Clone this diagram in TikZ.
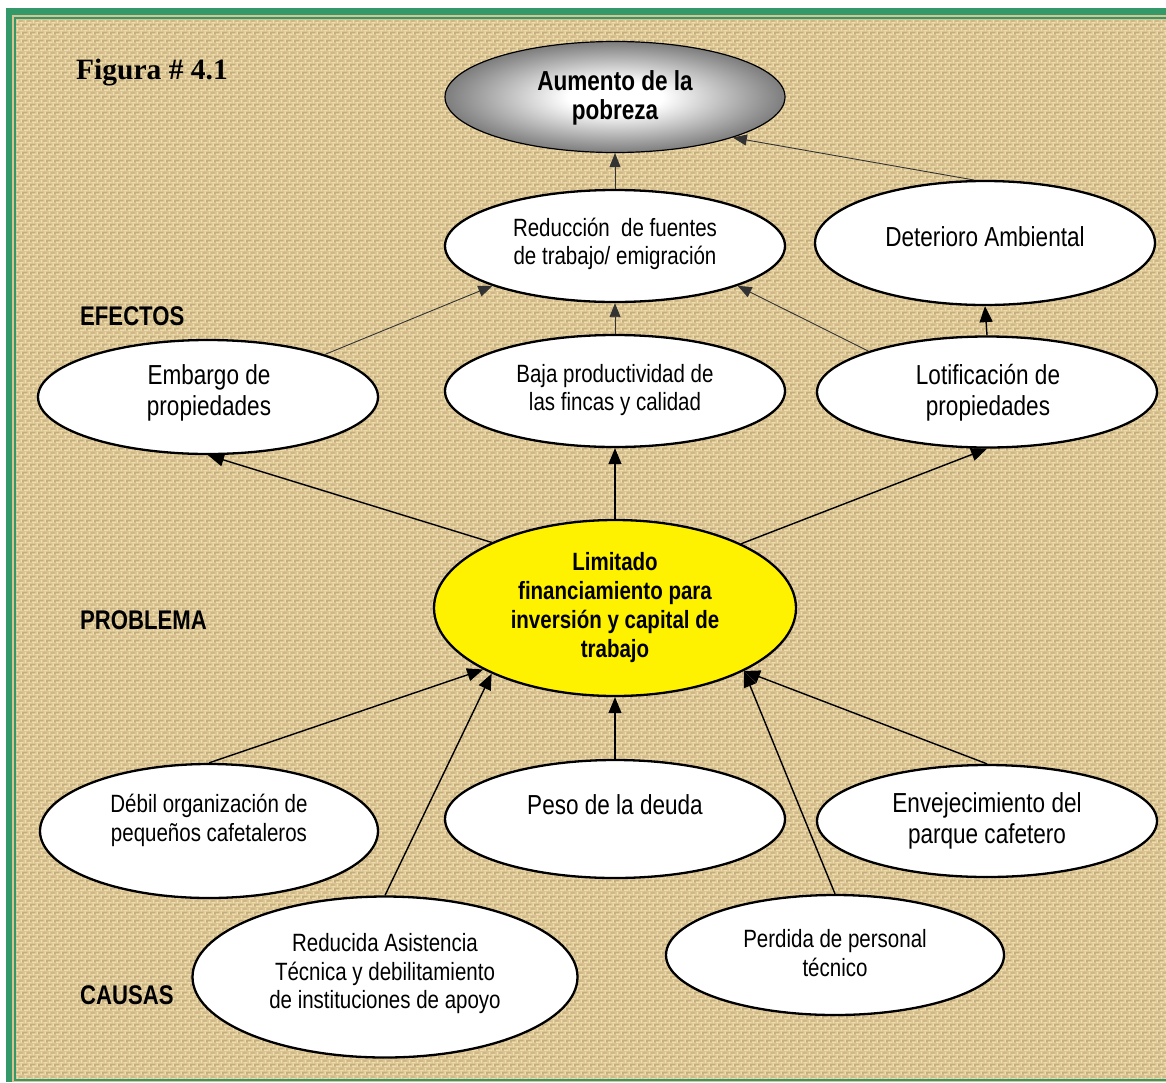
\documentclass[tikz,border=0pt]{standalone}
\usepackage{fontspec}
\setmainfont{Liberation Sans}[FakeStretch=0.82]
\newfontfamily\captionserif{Liberation Serif}
\usetikzlibrary{shapes.geometric,arrows.meta,patterns.meta}

\definecolor{burlap}{RGB}{218,195,146}
\definecolor{burlaplight}{RGB}{240,222,174}
\definecolor{burlapdark}{RGB}{184,160,114}
\definecolor{framegreen}{RGB}{52,153,104}

\pgfdeclareradialshading{greyglow}{\pgfpoint{0bp}{0bp}}{%
  color(0bp)=(white); color(7bp)=(white); color(31bp)=(black!68); color(50bp)=(black!68)}

% woven sackcloth texture
\tikzdeclarepattern{
  name=sackcloth,
  type=colored,
  bottom left={(0pt,0pt)},
  top right={(8pt,8pt)},
  tile size={(8pt,8pt)},
  code={
    \fill[burlap] (0pt,0pt) rectangle (8pt,8pt);
    \fill[burlaplight] (0pt,0pt) rectangle (4.5pt,1.6pt);
    \fill[burlaplight] (4pt,4pt) rectangle (8pt,5.6pt);
    \fill[burlaplight] (5.2pt,0.4pt) rectangle (6.6pt,3.4pt);
    \fill[burlaplight] (1pt,4.4pt) rectangle (2.4pt,7.8pt);
    \fill[burlapdark] (0pt,2.2pt) rectangle (3.6pt,3.0pt);
    \fill[burlapdark] (3.2pt,6.4pt) rectangle (7.4pt,7.2pt);
    \fill[burlapdark] (7.2pt,0.6pt) rectangle (8pt,3.6pt);
  }
}

\begin{document}
\begin{tikzpicture}[x=1pt,y=-1pt,
  bubble/.style={ellipse, draw=black, line width=2.3pt, fill=white, inner sep=0pt},
  txt/.style={align=center, inner sep=0pt, font=\fontsize{27.5}{31}\selectfont},
  txtsmall/.style={align=center, inner sep=0pt, font=\fontsize{25}{28.5}\selectfont},
  txtbold/.style={align=center, inner sep=0pt, font=\bfseries\fontsize{25}{29}\selectfont},
  sect/.style={anchor=west, inner sep=0pt, font=\bfseries\fontsize{27}{30}\selectfont},
  cause/.style={-{Triangle[length=16pt,width=13pt]}, line width=1.4pt, black},
  effect/.style={-{Triangle[length=14pt,width=11pt]}, line width=0.9pt, black!80},
]
\useasboundingbox (0,0) rectangle (1166,1082);

% frame and background
\fill[white] (0,0) rectangle (1166,1082);
\fill[framegreen] (6,8) rectangle (1166,1082);
\fill[burlap] (12,15) rectangle (1166,1082);
\fill[pattern=sackcloth] (16,19) rectangle (1166,1079);
\draw[framegreen, line width=2pt] (15,18) rectangle (1175,1080);

% title and section labels
\node[anchor=west, inner sep=0pt, font=\captionserif\bfseries\fontsize{29.5}{32}\selectfont] (title) at (76,73) {Figura \# 4.1};
\node[sect] (lblefectos) at (80,316) {EFECTOS};
\node[sect] (lblproblema) at (80,620) {PROBLEMA};
\node[sect] (lblcausas) at (80,995) {CAUSAS};

% effects
\node[ellipse, draw=black, line width=1.2pt, shading=greyglow, inner sep=0pt,
      minimum width=340, minimum height=111] (aum) at (615,97) {};
\node[txtbold, font=\bfseries\fontsize{27.5}{29}\selectfont] (aumt) at (615,97.5) {Aumento de la\\pobreza};

\node[bubble, minimum width=340, minimum height=112] (red) at (615,246) {};
\node[txtsmall] (redt) at (615,244) {Reducción\ \ de fuentes\\de trabajo/ emigración};

\node[bubble, minimum width=340, minimum height=124] (det) at (985,243) {};
\node[txt] (dett) at (985,237) {Deterioro Ambiental};

\node[bubble, minimum width=340, minimum height=114] (emb) at (208,397) {};
\node[txt] (embt) at (209,392.5) {Embargo de\\propiedades};

\node[bubble, minimum width=340, minimum height=112] (baja) at (615,391) {};
\node[txtsmall] (bajat) at (615,390) {Baja productividad de\\las fincas y calidad};

\node[bubble, minimum width=340, minimum height=111] (lot) at (987,392) {};
\node[txt] (lott) at (988,392.5) {Lotificación de\\propiedades};

% central problem
\node[ellipse, draw=black, line width=2.3pt, fill=yellow, inner sep=0pt,
      minimum width=362, minimum height=176] (lim) at (615,608) {};
\node[txtbold] (limt) at (615,608) {Limitado\\financiamiento para\\inversión y capital de\\trabajo};

% causes
\node[bubble, minimum width=338, minimum height=134] (deb) at (209,831) {};
\node[txtsmall] (debt) at (209,820.5) {Débil organización de\\pequeños cafetaleros};

\node[bubble, minimum width=340, minimum height=118] (peso) at (615,819) {};
\node[txt] (pesot) at (615,805) {Peso de la deuda};

\node[bubble, minimum width=340, minimum height=112] (env) at (987,821) {};
\node[txt] (envt) at (987,820.5) {Envejecimiento del\\parque cafetero};

\node[bubble, minimum width=338, minimum height=120] (per) at (835,955) {};
\node[txtsmall] (pert) at (835,953) {Perdida de personal\\técnico};

\node[bubble, minimum width=385, minimum height=161] (asis) at (385,977) {};
\node[txtsmall] (asist) at (385,974) {Reducida Asistencia\\Técnica y debilitamiento\\de instituciones de apoyo};

% connectors among the effects
\draw[effect] (red.north) -- (aum.south);
\draw[effect] (det.100) -- (aum.341);
\draw[effect] (emb.20) -- (red.198);
\draw[effect] (baja.north) -- (red.south);
\draw[effect] (lot.161) -- (red.342);
\draw[cause] (lot.north) -- (det.south);

% problem to effects
\draw[cause] (lim.152.4) -- (emb.south);
\draw[cause] (lim.north) -- (baja.south);
\draw[cause] (lim.27.3) -- (lot.south);

% causes to problem
\draw[cause] (deb.north) -- (lim.205);
\draw[cause] (asis.north) -- (lim.208);
\draw[cause] (peso.north) -- (lim.south);
\draw[cause] (per.north) -- (lim.334);
\draw[cause] (env.north) -- (lim.334);
\end{tikzpicture}
\end{document}
